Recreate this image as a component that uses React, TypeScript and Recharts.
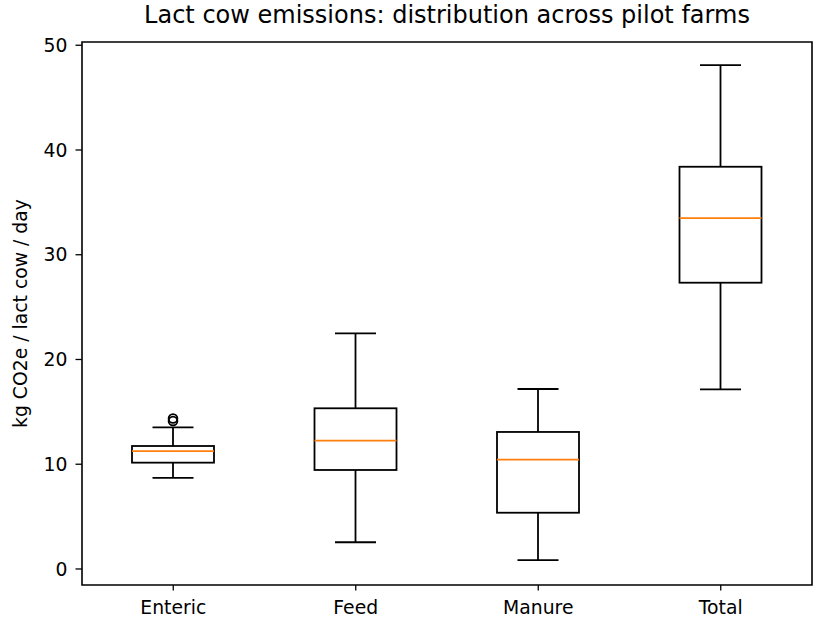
import { Bar, ComposedChart, ReferenceArea, XAxis, YAxis } from 'recharts';

const categories = ['Enteric', 'Feed', 'Manure', 'Total'];
const whiskerLow = [8.7, 2.55, 0.85, 17.15];
const q1 = [10.15, 9.45, 5.37, 27.33];
const median = [11.25, 12.25, 10.43, 33.5];
const q3 = [11.74, 15.34, 13.08, 38.4];
const whiskerHigh = [13.52, 22.5, 17.18, 48.1];
const outliers: number[][] = [[14.13, 14.37], [], [], []];
const yTicks = [0, 10, 20, 30, 40, 50];
const yMin = -1.53;
const yMax = 50.31;

const data = categories.map((name, i) => ({
    name,
    range: [whiskerLow[i], whiskerHigh[i]],
    q1: q1[i],
    median: median[i],
    q3: q3[i],
    outliers: outliers[i],
}));

const font = '"DejaVu Sans", sans-serif';
const lw = 1.8;
const fs = 18.8;

// draws one box from the bar's pixel range (whisker low -> whisker high)
function BoxShape(props: any) {
    const { x, y, width, height, payload } = props;
    const [lo, hi] = payload.range;
    const py = (v: number) => y + ((hi - v) / (hi - lo)) * height;
    const cx = x + width / 2;
    const cap = width / 4;
    const top = py(payload.q3);
    const bot = py(payload.q1);
    return (
        <g>
            <line x1={cx} x2={cx} y1={py(hi)} y2={top} stroke="#000" strokeWidth={lw} />
            <line x1={cx} x2={cx} y1={bot} y2={py(lo)} stroke="#000" strokeWidth={lw} />
            <line x1={cx - cap} x2={cx + cap} y1={py(hi)} y2={py(hi)} stroke="#000" strokeWidth={lw} />
            <line x1={cx - cap} x2={cx + cap} y1={py(lo)} y2={py(lo)} stroke="#000" strokeWidth={lw} />
            <rect x={x} y={top} width={width} height={bot - top} fill="none" stroke="#000" strokeWidth={lw} />
            <line x1={x} x2={x + width} y1={py(payload.median)} y2={py(payload.median)} stroke="#ff7f0e" strokeWidth={lw} />
            {payload.outliers.map((v: number, i: number) => (
                <circle key={i} cx={cx} cy={py(v)} r={4.4} fill="none" stroke="#000" strokeWidth={lw} />
            ))}
        </g>
    );
}

export default function App() {
    return (
        <div style={{ position: 'absolute', left: 0, top: 0, width: 817, height: 623, background: '#fff' }}>
            <div
                style={{
                    position: 'absolute',
                    left: 82,
                    width: 730,
                    top: 1,
                    textAlign: 'center',
                    fontFamily: font,
                    fontSize: 24,
                    color: '#000',
                }}
            >
                Lact cow emissions: distribution across pilot farms
            </div>
            <ComposedChart width={817} height={623} data={data} margin={{ top: 42, right: 5, bottom: 0, left: 0 }}>
                <XAxis
                    dataKey="name"
                    type="category"
                    height={38}
                    axisLine={false}
                    tickLine={{ stroke: '#000', strokeWidth: 1.3 }}
                    tickSize={5.5}
                    tickMargin={10.5}
                    tick={{ fontSize: fs, fill: '#000', fontFamily: font }}
                />
                <YAxis
                    type="number"
                    domain={[yMin, yMax]}
                    ticks={yTicks}
                    allowDataOverflow
                    width={82}
                    axisLine={false}
                    tickLine={{ stroke: '#000', strokeWidth: 1.3 }}
                    tickSize={6.5}
                    tickMargin={8}
                    tick={{ fontSize: fs, fill: '#000', fontFamily: font }}
                    label={{
                        value: 'kg CO2e / lact cow / day',
                        angle: -90,
                        position: 'insideLeft',
                        offset: 20,
                        style: { textAnchor: 'middle', fontSize: fs, fill: '#000', fontFamily: font },
                    }}
                />
                <ReferenceArea y1={yMin} y2={yMax} fill="none" stroke="#000" strokeWidth={1.6} strokeOpacity={1} />
                <Bar dataKey="range" barSize={82} shape={BoxShape} isAnimationActive={false} />
            </ComposedChart>
        </div>
    );
}
